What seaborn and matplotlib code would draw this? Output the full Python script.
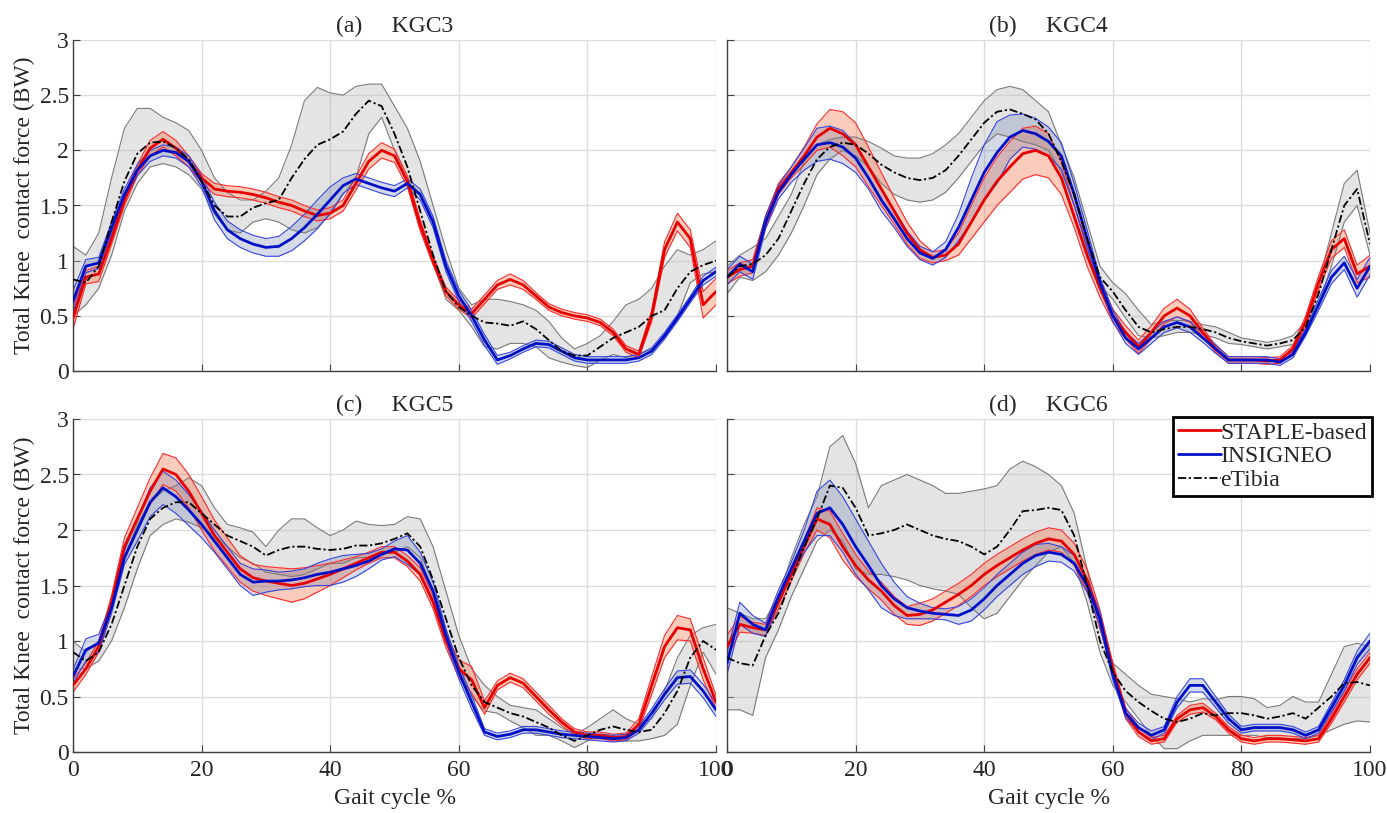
import numpy as np
import matplotlib
matplotlib.use("Agg")
import matplotlib.pyplot as plt
import seaborn as sns
from matplotlib.lines import Line2D
from matplotlib.ticker import FuncFormatter

# gait cycle grid, values read every 2 %
gait = np.arange(0, 101, 2)

# ---------------- (a) KGC3 ----------------
a_staple = [0.48, 0.85, 0.88, 1.2, 1.55, 1.82, 2.02, 2.1, 2.02, 1.9,
            1.75, 1.65, 1.63, 1.62, 1.6, 1.57, 1.53, 1.5, 1.45, 1.41,
            1.43, 1.5, 1.7, 1.9, 2.0, 1.95, 1.72, 1.32, 1.0, 0.72,
            0.6, 0.52, 0.65, 0.78, 0.83, 0.78, 0.68, 0.58, 0.53, 0.5,
            0.48, 0.44, 0.35, 0.2, 0.15, 0.5, 1.1, 1.35, 1.2, 0.6,
            0.72]
a_staple_sd = [0.1, 0.06, 0.07, 0.05, 0.05, 0.05, 0.07, 0.07, 0.07, 0.05,
               0.04, 0.05, 0.05, 0.05, 0.05, 0.05, 0.05, 0.05, 0.05, 0.05,
               0.05, 0.05, 0.06, 0.07, 0.07, 0.06, 0.05, 0.05, 0.04, 0.04,
               0.04, 0.04, 0.04, 0.04, 0.05, 0.04, 0.03, 0.03, 0.03, 0.03,
               0.03, 0.03, 0.03, 0.03, 0.03, 0.05, 0.07, 0.08, 0.08, 0.12,
               0.12]
a_insigneo = [0.63, 0.95, 0.98, 1.3, 1.6, 1.82, 1.95, 2.0, 1.98, 1.9,
              1.72, 1.45, 1.28, 1.2, 1.15, 1.12, 1.13, 1.2, 1.3, 1.42,
              1.55, 1.68, 1.74, 1.7, 1.66, 1.63, 1.7, 1.6, 1.35, 0.95,
              0.68, 0.5, 0.28, 0.1, 0.14, 0.2, 0.25, 0.24, 0.18, 0.12,
              0.1, 0.1, 0.1, 0.1, 0.12, 0.18, 0.32, 0.48, 0.65, 0.82,
              0.9]
a_insigneo_sd = [0.1, 0.06, 0.05, 0.05, 0.05, 0.05, 0.05, 0.05, 0.05, 0.05,
                 0.05, 0.08, 0.08, 0.08, 0.08, 0.08, 0.09, 0.11, 0.12, 0.13,
                 0.12, 0.07, 0.05, 0.05, 0.05, 0.05, 0.04, 0.05, 0.05, 0.05,
                 0.05, 0.05, 0.05, 0.04, 0.03, 0.03, 0.03, 0.03, 0.03, 0.03,
                 0.03, 0.03, 0.03, 0.03, 0.03, 0.03, 0.03, 0.03, 0.03, 0.04,
                 0.04]
a_etibia = [0.83, 0.8, 0.95, 1.35, 1.72, 1.97, 2.07, 2.08, 2.02, 1.92,
            1.72, 1.5, 1.4, 1.4, 1.48, 1.52, 1.55, 1.75, 1.92, 2.05,
            2.1, 2.17, 2.33, 2.45, 2.4, 2.15, 1.85, 1.45, 1.05, 0.72,
            0.58, 0.5, 0.44, 0.43, 0.41, 0.45, 0.38, 0.28, 0.18, 0.14,
            0.14, 0.22, 0.3, 0.35, 0.4, 0.5, 0.55, 0.75, 0.9, 0.96,
            1.0]
a_etibia_lo = [0.5, 0.6, 0.75, 1.05, 1.45, 1.7, 1.85, 1.88, 1.85, 1.78,
               1.65, 1.42, 1.28, 1.25, 1.35, 1.38, 1.35, 1.28, 1.25, 1.3,
               1.42, 1.6, 1.75, 2.15, 2.3, 2.0, 1.72, 1.35, 0.98, 0.65,
               0.55, 0.4, 0.22, 0.2, 0.25, 0.25, 0.22, 0.12, 0.08, 0.05,
               0.03, 0.1, 0.15, 0.12, 0.15, 0.2, 0.3, 0.5, 0.8, 0.88,
               0.9]
a_etibia_hi = [1.13, 1.05, 1.25, 1.75, 2.2, 2.38, 2.38, 2.3, 2.25, 2.18,
               2.0, 1.75, 1.62, 1.55, 1.55, 1.63, 1.75, 2.05, 2.45, 2.57,
               2.52, 2.5, 2.58, 2.6, 2.6, 2.4, 2.2, 1.9, 1.5, 1.1,
               0.75, 0.6, 0.65, 0.65, 0.63, 0.6, 0.55, 0.45, 0.3, 0.2,
               0.25, 0.32, 0.45, 0.6, 0.65, 0.75, 0.95, 1.1, 1.05, 1.1,
               1.18]

# ---------------- (b) KGC4 ----------------
b_staple = [0.85, 0.92, 0.95, 1.35, 1.65, 1.8, 1.95, 2.12, 2.2, 2.15,
            2.05, 1.85, 1.65, 1.45, 1.25, 1.1, 1.03, 1.05, 1.15, 1.35,
            1.55, 1.72, 1.85, 1.97, 2.0, 1.95, 1.75, 1.4, 1.05, 0.75,
            0.5, 0.35, 0.22, 0.35, 0.5, 0.57, 0.5, 0.35, 0.2, 0.1,
            0.1, 0.1, 0.09, 0.1, 0.2, 0.45, 0.8, 1.1, 1.2, 0.88,
            0.95]
b_staple_sd = [0.06, 0.06, 0.06, 0.05, 0.05, 0.05, 0.08, 0.12, 0.17, 0.2,
               0.2, 0.18, 0.15, 0.12, 0.1, 0.08, 0.05, 0.05, 0.1, 0.15,
               0.2, 0.22, 0.23, 0.23, 0.22, 0.2, 0.15, 0.1, 0.1, 0.08,
               0.06, 0.06, 0.06, 0.06, 0.07, 0.08, 0.06, 0.04, 0.03, 0.03,
               0.03, 0.03, 0.03, 0.03, 0.03, 0.05, 0.06, 0.08, 0.08, 0.08,
               0.1]
b_insigneo = [0.85, 0.97, 0.9, 1.35, 1.62, 1.78, 1.92, 2.05, 2.07, 2.03,
              1.93, 1.75, 1.55, 1.38, 1.2, 1.07, 1.02, 1.1, 1.3, 1.55,
              1.8, 1.98, 2.12, 2.18, 2.15, 2.08, 1.95, 1.6, 1.2, 0.8,
              0.5, 0.3, 0.2, 0.3, 0.4, 0.44, 0.4, 0.3, 0.2, 0.1,
              0.1, 0.1, 0.1, 0.08, 0.15, 0.35, 0.6, 0.85, 0.98, 0.75,
              0.95]
b_insigneo_sd = [0.07, 0.07, 0.07, 0.06, 0.06, 0.07, 0.1, 0.15, 0.15, 0.15,
                 0.13, 0.1, 0.1, 0.08, 0.07, 0.06, 0.06, 0.07, 0.12, 0.2,
                 0.25, 0.28, 0.2, 0.15, 0.14, 0.13, 0.12, 0.1, 0.08, 0.05,
                 0.05, 0.05, 0.05, 0.05, 0.05, 0.05, 0.05, 0.04, 0.04, 0.03,
                 0.03, 0.03, 0.03, 0.03, 0.03, 0.03, 0.05, 0.06, 0.06, 0.08,
                 0.08]
b_etibia = [0.85, 0.95, 0.97, 1.05, 1.2, 1.45, 1.7, 1.92, 2.03, 2.07,
            2.05, 1.97, 1.87, 1.8, 1.75, 1.73, 1.75, 1.82, 1.95, 2.1,
            2.25, 2.35, 2.37, 2.33, 2.28, 2.15, 1.9, 1.6, 1.2, 0.85,
            0.72, 0.55, 0.4, 0.35, 0.38, 0.4, 0.4, 0.38, 0.35, 0.3,
            0.27, 0.25, 0.23, 0.25, 0.28, 0.4, 0.7, 1.1, 1.5, 1.65,
            1.15]
b_etibia_lo = [0.7, 0.85, 0.82, 0.9, 1.05, 1.25, 1.5, 1.78, 1.92, 2.0,
               1.95, 1.85, 1.7, 1.6, 1.55, 1.53, 1.55, 1.62, 1.75, 1.9,
               2.05, 2.15, 2.12, 2.08, 2.05, 2.0, 1.8, 1.5, 1.1, 0.78,
               0.65, 0.48, 0.32, 0.3, 0.32, 0.35, 0.35, 0.33, 0.3, 0.25,
               0.24, 0.22, 0.2, 0.22, 0.24, 0.35, 0.6, 0.95, 1.35, 1.5,
               1.05]
b_etibia_hi = [0.95, 1.05, 1.12, 1.2, 1.4, 1.6, 1.9, 2.05, 2.1, 2.12,
               2.12, 2.08, 2.02, 1.95, 1.93, 1.93, 1.97, 2.05, 2.15, 2.3,
               2.45, 2.55, 2.58, 2.55, 2.45, 2.35, 2.05, 1.75, 1.35, 0.95,
               0.8, 0.7, 0.55, 0.42, 0.45, 0.46, 0.45, 0.42, 0.4, 0.35,
               0.3, 0.28, 0.26, 0.28, 0.32, 0.45, 0.8, 1.25, 1.7, 1.82,
               1.25]

# ---------------- (c) KGC5 ----------------
c_staple = [0.6, 0.75, 0.95, 1.35, 1.85, 2.1, 2.35, 2.55, 2.5, 2.35,
            2.15, 1.95, 1.8, 1.65, 1.57, 1.54, 1.52, 1.5, 1.52, 1.56,
            1.6, 1.65, 1.7, 1.75, 1.8, 1.8, 1.72, 1.6, 1.35, 1.0,
            0.75, 0.65, 0.4, 0.6, 0.67, 0.62, 0.5, 0.38, 0.27, 0.18,
            0.15, 0.15, 0.13, 0.14, 0.25, 0.6, 0.95, 1.12, 1.1, 0.75,
            0.45]
c_staple_sd = [0.06, 0.05, 0.05, 0.06, 0.08, 0.1, 0.12, 0.14, 0.15, 0.15,
               0.15, 0.14, 0.13, 0.12, 0.12, 0.13, 0.14, 0.15, 0.14, 0.12,
               0.1, 0.08, 0.06, 0.05, 0.05, 0.05, 0.05, 0.06, 0.06, 0.06,
               0.08, 0.12, 0.06, 0.04, 0.04, 0.04, 0.04, 0.04, 0.03, 0.03,
               0.03, 0.03, 0.03, 0.03, 0.05, 0.08, 0.1, 0.11, 0.1, 0.1,
               0.06]
c_insigneo = [0.68, 0.92, 0.98, 1.3, 1.75, 2.0, 2.25, 2.38, 2.3, 2.18,
              2.05, 1.9, 1.75, 1.6, 1.53, 1.54, 1.54, 1.55, 1.57, 1.6,
              1.62, 1.65, 1.68, 1.72, 1.78, 1.83, 1.82, 1.7, 1.45, 1.05,
              0.72, 0.45, 0.18, 0.14, 0.16, 0.2, 0.2, 0.18, 0.16, 0.15,
              0.14, 0.13, 0.12, 0.13, 0.2, 0.35, 0.52, 0.67, 0.68, 0.55,
              0.38]
c_insigneo_sd = [0.06, 0.1, 0.08, 0.05, 0.06, 0.1, 0.13, 0.15, 0.15, 0.14,
                 0.12, 0.1, 0.1, 0.1, 0.12, 0.1, 0.08, 0.08, 0.08, 0.1,
                 0.12, 0.12, 0.1, 0.07, 0.05, 0.07, 0.13, 0.1, 0.08, 0.06,
                 0.06, 0.06, 0.03, 0.03, 0.03, 0.03, 0.03, 0.03, 0.03, 0.03,
                 0.03, 0.03, 0.03, 0.03, 0.03, 0.04, 0.05, 0.06, 0.06, 0.06,
                 0.06]
c_etibia = [0.9, 0.82, 0.9, 1.15, 1.5, 1.85, 2.1, 2.2, 2.25, 2.25,
            2.15, 2.05, 1.95, 1.9, 1.85, 1.77, 1.82, 1.85, 1.85, 1.83,
            1.82, 1.83, 1.86, 1.86, 1.88, 1.92, 1.97, 1.85, 1.55, 1.2,
            0.85, 0.6, 0.45, 0.4, 0.35, 0.32, 0.27, 0.22, 0.15, 0.1,
            0.15, 0.2, 0.23, 0.2, 0.18, 0.2, 0.35, 0.55, 0.85, 1.0,
            0.92]
c_etibia_lo = [0.75, 0.75, 0.82, 1.0, 1.3, 1.65, 1.95, 2.05, 2.1, 2.07,
               2.02, 1.95, 1.85, 1.75, 1.7, 1.62, 1.6, 1.58, 1.6, 1.65,
               1.7, 1.7, 1.75, 1.75, 1.78, 1.8, 1.85, 1.75, 1.45, 1.1,
               0.75, 0.5, 0.37, 0.35, 0.28, 0.22, 0.15, 0.15, 0.1, 0.04,
               0.1, 0.15, 0.12, 0.1, 0.1, 0.12, 0.15, 0.25, 0.6, 0.9,
               0.7]
c_etibia_hi = [1.0, 0.9, 1.0, 1.3, 1.75, 2.05, 2.25, 2.35, 2.4, 2.47,
               2.4, 2.2, 2.05, 2.02, 1.98, 1.85, 2.0, 2.1, 2.1, 2.02,
               1.95, 2.0, 2.08, 2.05, 2.04, 2.05, 2.12, 2.1, 1.85, 1.45,
               1.05, 0.75, 0.6, 0.5, 0.42, 0.4, 0.38, 0.3, 0.22, 0.16,
               0.22, 0.3, 0.38, 0.3, 0.25, 0.3, 0.55, 0.85, 1.05, 1.12,
               1.15]

# ---------------- (d) KGC6 ----------------
d_staple = [0.95, 1.15, 1.12, 1.1, 1.35, 1.6, 1.85, 2.1, 2.05, 1.85,
            1.68, 1.55, 1.45, 1.32, 1.23, 1.24, 1.28, 1.35, 1.42, 1.5,
            1.6, 1.68, 1.75, 1.82, 1.88, 1.92, 1.9, 1.78, 1.55, 1.2,
            0.75, 0.35, 0.18, 0.1, 0.12, 0.3, 0.38, 0.4, 0.32, 0.2,
            0.12, 0.1, 0.12, 0.12, 0.11, 0.1, 0.12, 0.3, 0.5, 0.7,
            0.85]
d_staple_sd = [0.1, 0.07, 0.05, 0.05, 0.06, 0.06, 0.06, 0.1, 0.12, 0.12,
               0.1, 0.08, 0.08, 0.08, 0.08, 0.1, 0.1, 0.1, 0.1, 0.1,
               0.1, 0.1, 0.1, 0.1, 0.1, 0.1, 0.1, 0.1, 0.1, 0.08,
               0.05, 0.05, 0.04, 0.03, 0.03, 0.03, 0.04, 0.04, 0.03, 0.03,
               0.03, 0.03, 0.03, 0.03, 0.03, 0.03, 0.03, 0.04, 0.05, 0.05,
               0.05]
d_insigneo = [0.8, 1.25, 1.15, 1.1, 1.4, 1.65, 1.9, 2.15, 2.2, 2.05,
              1.85, 1.68, 1.5, 1.38, 1.3, 1.27, 1.25, 1.24, 1.23, 1.28,
              1.38, 1.5, 1.6, 1.7, 1.77, 1.8, 1.78, 1.7, 1.5, 1.2,
              0.7, 0.35, 0.22, 0.15, 0.2, 0.45, 0.6, 0.6, 0.45, 0.3,
              0.2, 0.22, 0.22, 0.22, 0.2, 0.15, 0.2, 0.4, 0.6, 0.85,
              1.0]
d_insigneo_sd = [0.1, 0.1, 0.08, 0.06, 0.06, 0.06, 0.1, 0.2, 0.25, 0.25,
                 0.25, 0.22, 0.2, 0.15, 0.1, 0.07, 0.05, 0.05, 0.08, 0.1,
                 0.1, 0.1, 0.1, 0.1, 0.1, 0.08, 0.07, 0.07, 0.06, 0.06,
                 0.05, 0.04, 0.04, 0.04, 0.03, 0.05, 0.06, 0.06, 0.05, 0.04,
                 0.03, 0.03, 0.03, 0.03, 0.03, 0.03, 0.03, 0.04, 0.05, 0.06,
                 0.07]
d_etibia = [0.85, 0.8, 0.78, 1.05, 1.25, 1.55, 1.85, 2.1, 2.4, 2.38,
            2.2, 1.95, 1.97, 2.0, 2.05, 2.0, 1.95, 1.92, 1.9, 1.85,
            1.78, 1.85, 2.0, 2.17, 2.18, 2.2, 2.18, 1.95, 1.5, 1.0,
            0.72, 0.55, 0.45, 0.37, 0.3, 0.27, 0.3, 0.35, 0.33, 0.35,
            0.35, 0.33, 0.3, 0.32, 0.35, 0.3, 0.4, 0.5, 0.62, 0.63,
            0.6]
d_etibia_lo = [0.38, 0.38, 0.33, 0.85, 1.1, 1.4, 1.65, 1.9, 2.0, 1.9,
               1.65, 1.6, 1.6, 1.58, 1.55, 1.5, 1.47, 1.45, 1.42, 1.3,
               1.2, 1.25, 1.4, 1.55, 1.68, 1.8, 1.85, 1.7, 1.35, 0.9,
               0.6, 0.45, 0.3, 0.15, 0.03, 0.03, 0.1, 0.15, 0.15, 0.15,
               0.15, 0.15, 0.13, 0.12, 0.12, 0.12, 0.15, 0.2, 0.25, 0.28,
               0.27]
d_etibia_hi = [1.3, 1.25, 1.2, 1.2, 1.4, 1.75, 2.05, 2.3, 2.75, 2.85,
               2.6, 2.2, 2.4, 2.45, 2.5, 2.45, 2.4, 2.33, 2.33, 2.35,
               2.37, 2.4, 2.55, 2.62, 2.57, 2.5, 2.4, 2.15, 1.65, 1.1,
               0.8, 0.7, 0.6, 0.52, 0.5, 0.48, 0.45, 0.48, 0.47, 0.5,
               0.5, 0.48, 0.4, 0.42, 0.5, 0.45, 0.45, 0.7, 0.95, 0.98,
               0.95]

panels = [
    ("a", "KGC3", a_staple, a_staple_sd, a_insigneo, a_insigneo_sd, a_etibia, a_etibia_lo, a_etibia_hi),
    ("b", "KGC4", b_staple, b_staple_sd, b_insigneo, b_insigneo_sd, b_etibia, b_etibia_lo, b_etibia_hi),
    ("c", "KGC5", c_staple, c_staple_sd, c_insigneo, c_insigneo_sd, c_etibia, c_etibia_lo, c_etibia_hi),
    ("d", "KGC6", d_staple, d_staple_sd, d_insigneo, d_insigneo_sd, d_etibia, d_etibia_lo, d_etibia_hi),
]

RED = "#e60000"
BLUE = "#0010c8"
DASHDOT = (0, (4.5, 1.5, 1.2, 1.5))
FS = 17

sns.set_theme(style="whitegrid")
plt.rcParams['font.family'] = ['Liberation Serif', 'DejaVu Serif']
plt.rcParams['axes.unicode_minus'] = False

W, H = 1387, 813
fig = plt.figure(figsize=(W / 100, H / 100), dpi=100)

# axes boxes in pixels: left, top, right, bottom
boxes = [(73, 40, 716, 371), (727, 40, 1370, 371),
         (73, 419, 716, 752), (727, 419, 1370, 752)]


def band(ax, lo, hi, face, alpha, edge):
    ax.fill_between(gait, lo, hi, color=face, alpha=alpha, lw=0, zorder=1)
    sns.lineplot(x=gait, y=lo, ax=ax, color=edge, lw=0.8, zorder=2)
    sns.lineplot(x=gait, y=hi, ax=ax, color=edge, lw=0.8, zorder=2)


for i, (tag, name, st, st_sd, ins, ins_sd, et, et_lo, et_hi) in enumerate(panels):
    l, t, r, b = boxes[i]
    ax = fig.add_axes([l / W, 1 - b / H, (r - l) / W, (b - t) / H])
    st, st_sd = np.array(st), np.array(st_sd)
    ins, ins_sd = np.array(ins), np.array(ins_sd)

    band(ax, et_lo, et_hi, "#bdbdbd", 0.4, "#7a7a7a")
    band(ax, st - st_sd, st + st_sd, "#f46a3c", 0.35, "#ff2a2a")
    band(ax, ins - ins_sd, ins + ins_sd, "#5a6ea8", 0.25, "#3545e0")

    sns.lineplot(x=gait, y=st, ax=ax, color=RED, lw=2.0, zorder=4)
    sns.lineplot(x=gait, y=ins, ax=ax, color=BLUE, lw=2.0, zorder=4)
    sns.lineplot(x=gait, y=et, ax=ax, color="black", lw=1.3, linestyle=DASHDOT, zorder=5)

    ax.set_xlim(0, 100)
    ax.set_ylim(0, 3)
    ax.set_xticks([0, 20, 40, 60, 80, 100])
    ax.set_yticks([0, 0.5, 1, 1.5, 2, 2.5, 3])
    ax.yaxis.set_major_formatter(FuncFormatter(lambda v, _: f"{v:g}"))
    ax.grid(True, color="#dcdcdc", lw=1.0)
    ax.set_facecolor("white")
    for side in ("top", "right"):
        ax.spines[side].set_visible(False)
    for side in ("left", "bottom"):
        ax.spines[side].set_color("#404040")
        ax.spines[side].set_linewidth(1.0)
    ax.tick_params(direction="in", length=5, width=0.8, color="#404040",
                   bottom=True, left=True, labelsize=FS, pad=3)
    ax.tick_params(axis="x", pad=6)

    left_col = i % 2 == 0
    top_row = i < 2
    if top_row:
        ax.tick_params(labelbottom=False)
        ax.set_xlabel("")
    else:
        ax.set_xlabel("Gait cycle %", fontsize=FS, labelpad=5)
    if left_col:
        ax.set_ylabel("Total Knee  contact force (BW)", fontsize=FS, labelpad=3)
    else:
        ax.tick_params(labelleft=False)
        ax.set_ylabel("")
    ax.set_title(f"({tag})     {name}", fontsize=FS, pad=6)

    if i == 3:
        handles = [Line2D([], [], color=RED, lw=2.0),
                   Line2D([], [], color=BLUE, lw=2.0),
                   Line2D([], [], color="black", lw=1.3, linestyle=DASHDOT)]
        leg = ax.legend(handles, ["STAPLE-based", "INSIGNEO", "eTibia"],
                        loc="upper right", bbox_to_anchor=(1.003, 1.005),
                        fontsize=FS, frameon=True, fancybox=False,
                        edgecolor="black", framealpha=1, borderpad=0.2,
                        handlelength=1.8, handletextpad=0.0, labelspacing=0.1,
                        borderaxespad=0.0)
        leg.get_frame().set_linewidth(2.0)

fig.savefig("out.png", dpi=100)
